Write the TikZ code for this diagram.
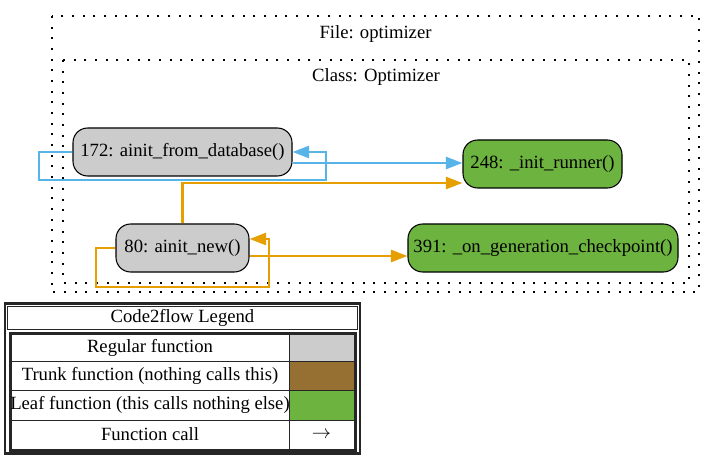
\documentclass[tikz,border=0pt]{standalone}
\usepackage{fontspec}
\setmainfont{Liberation Serif}
\usetikzlibrary{arrows.meta}
\usepackage{xcolor}

\definecolor{regular}{HTML}{CCCCCC}
\definecolor{trunk}{HTML}{966F33}
\definecolor{leaf}{HTML}{6DB33F}
\definecolor{callblue}{HTML}{56B4E9}
\definecolor{callorange}{HTML}{E69F00}

\begin{document}
\begin{tikzpicture}[x=0.75pt, y=-0.75pt,
    every node/.style={font=\fontsize{14}{16}\selectfont},
    func/.style={draw=black, line width=0.8pt, rounded corners=11pt, minimum height=36pt, inner sep=0pt},
    cluster/.style={line width=1.1pt, dash pattern=on 1.5pt off 6.5pt},
    call/.style={line width=2.1pt, -{Triangle[length=12.5pt, width=9pt]}},
    cell/.style={draw=black!85, line width=0.75pt}]

    \useasboundingbox (0,0) rectangle (716,459);

    % File and class clusters
    \draw[cluster] (52,16) rectangle (699,292);
    \node (filelabel) at (375.5,34) {File: optimizer};
    \draw[cluster] (63,60) rectangle (689,283);
    \node (classlabel) at (376,77) {Class: Optimizer};

    % Functions
    \node[func, fill=regular, minimum width=164.25pt] (F172) at (182.5,152) {172: ainit\_from\_database()};
    \node[func, fill=regular, minimum width=99.75pt] (F80) at (182.5,248) {80: ainit\_new()};
    \node[func, fill=leaf, minimum width=119.25pt] (F248) at (542.5,164) {248: \_init\_runner()};
    \node[func, fill=leaf, minimum width=202.5pt] (F391) at (543,248) {391: \_on\_generation\_checkpoint()};

    % Calls from ainit_from_database
    \draw[call, callblue] (F172.west) -- (39,152) -- (39,180) -- (326,180) -- (326,152) -- (F172.east);
    \draw[call, callblue] ([yshift=-8.25pt]F172.east) -- ([yshift=0.75pt]F248.west);

    % Calls from ainit_new
    \draw[call, callorange] (F80.north) |- ([yshift=-14.25pt]F248.west);
    \draw[call, callorange] ([yshift=-6pt]F80.east) -- ([yshift=-6pt]F391.west);
    \draw[call, callorange] (F80.west) -- (96,248) -- (96,287) -- (269,287) -- (269,239) -- ([yshift=6.75pt]F80.east);

    % Legend
    \draw[line width=2.2pt, draw=black!85] (5,303.5) rectangle (360,453.5);
    \draw[cell] (7.5,306) rectangle (357.5,329.5);
    \node (legendtitle) at (182.5,318) {Code2flow Legend};
    \draw[line width=1.8pt, draw=black!85] (10,333) rectangle (355.5,450.5);

    \draw[cell] (11.5,334.5) rectangle (289,361);
    \draw[cell, fill=regular] (289,334.5) rectangle (354,361);
    \node (regularlabel) at (150,347.5) {Regular function};

    \draw[cell] (11.5,361) rectangle (289,390.5);
    \draw[cell, fill=trunk] (289,361) rectangle (354,390.5);
    \node (trunklabel) at (150,375.5) {Trunk function (nothing calls this)};

    \draw[cell] (11.5,390.5) rectangle (289,420);
    \draw[cell, fill=leaf] (289,390.5) rectangle (354,420);
    \node (leaflabel) at (150,405) {Leaf function (this calls nothing else)};

    \draw[cell] (11.5,420) rectangle (289,449);
    \draw[cell] (289,420) rectangle (354,449);
    \node (calllabel) at (150,434.5) {Function call};
    \node (callarrow) at (321.5,434.5) {$\rightarrow$};

\end{tikzpicture}
\end{document}
